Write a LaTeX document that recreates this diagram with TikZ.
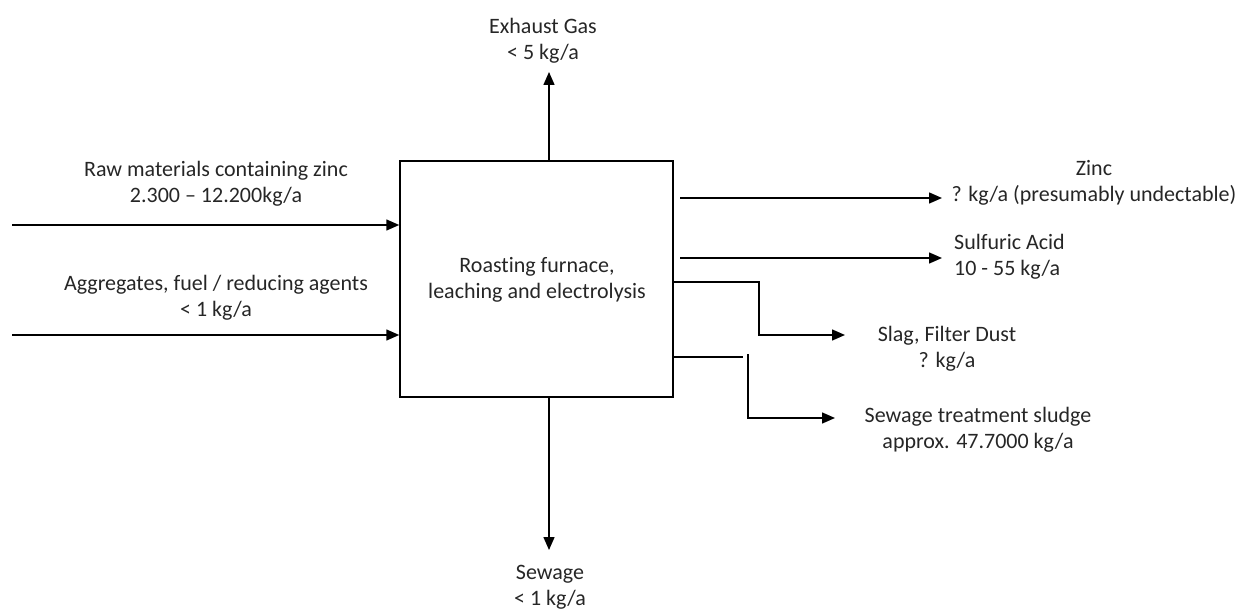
\documentclass[tikz,border=0pt]{standalone}
\usepackage{fontspec}
\setmainfont{Carlito}[Ligatures={NoCommon}]
\usetikzlibrary{arrows.meta}
\begin{document}
\begin{tikzpicture}[x=1pt,y=-1pt,
  every node/.style={font=\fontsize{22pt}{26pt}\selectfont, text=black!85, inner sep=0pt},
  lbl/.style={align=center},
  lbll/.style={align=left, anchor=west},
  arr/.style={line width=1.5pt, -{Triangle[length=13pt,width=11pt]}},
  ln/.style={line width=1.5pt}]
\useasboundingbox (0,0) rectangle (1245,612);
% process box
\node[draw=black, line width=1.5pt, minimum width=273pt, minimum height=236pt] (box) at (536.5,279) {};
\node[lbl] (boxtxt) at (537,280) {Roasting furnace,\\leaching and electrolysis};
% labels
\node[lbl] (exh) at (543,41) {Exhaust Gas\\< 5 kg/a};
\node[lbl] (raw) at (216,184) {Raw materials containing zinc\\2.300 -- 12.200kg/a};
\node[lbl] (agg) at (216,298) {Aggregates, fuel / reducing agents\\< 1 kg/a};
\node[lbl] (zinc) at (1094,183) {Zinc\\? kg/a (presumably undectable)};
\node[lbll] (sulf) at (954,257) {Sulfuric Acid\\10 - 55 kg/a};
\node[lbl] (slag) at (947,349) {Slag, Filter Dust\\? kg/a};
\node[lbl] (sludge) at (978,430) {Sewage treatment sludge\\approx. 47.7000 kg/a};
\node[lbl] (sew) at (550,587) {Sewage\\< 1 kg/a};
% coordinates of free ends
\coordinate (exEnd) at (549,72);
\coordinate (in1) at (12,225);
\coordinate (in2) at (12,335);
\coordinate (z0) at (680,198);
\coordinate (z1) at (942,198);
\coordinate (s0) at (680,258);
\coordinate (s1) at (942,258);
\coordinate (sl0) at (673,282);
\coordinate (slc) at (759,335);
\coordinate (sl1) at (845,335);
\coordinate (sg0) at (673,357);
\coordinate (sg1) at (743,357);
\coordinate (sg2) at (748,354);
\coordinate (sg3) at (835,418);
\coordinate (swEnd) at (549,550);
% connectors
\draw[arr] (box.north -| exEnd) -- (exEnd);
\draw[arr] (in1) -- (in1 -| box.west);
\draw[arr] (in2) -- (in2 -| box.west);
\draw[arr] (z0) -- (z1);
\draw[arr] (s0) -- (s1);
\draw[arr] (sl0) -| (slc) -- (sl1);
\draw[ln] (sg0) -- (sg1);
\draw[arr] (sg2) |- (sg3);
\draw[arr] (box.south -| swEnd) -- (swEnd);
\end{tikzpicture}
\end{document}
